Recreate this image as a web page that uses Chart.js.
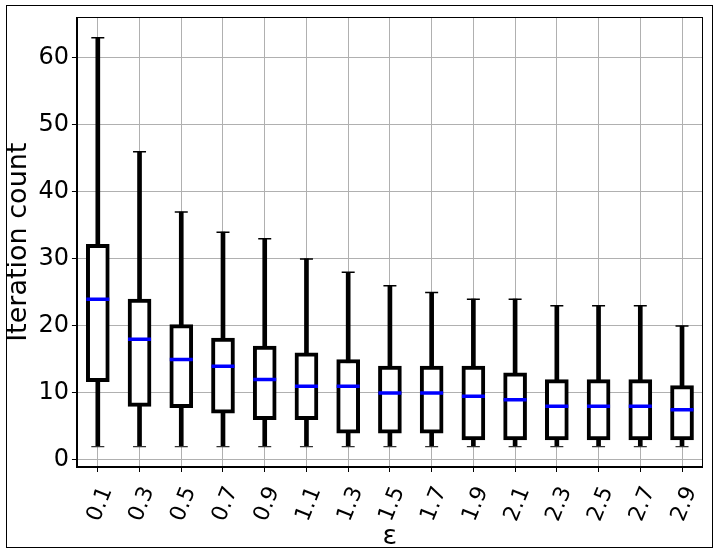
<!DOCTYPE html>
<html><head><meta charset="utf-8">
<script src="https://cdn.jsdelivr.net/npm/chart.js@4"></script>
<style>html,body{margin:0;padding:0;background:#fff}#wrap{position:relative;width:718px;height:553px}</style>
</head><body><div id="wrap"><canvas id="c"></canvas></div>
<script>
const categories = ['0.1','0.3','0.5','0.7','0.9','1.1','1.3','1.5','1.7','1.9','2.1','2.3','2.5','2.7','2.9'];
const whiskerLow  = [2,2,2,2,2,2,2,2,2,2,2,2,2,2,2];
const q1          = [11.7,8,7.8,7,6,6,4,4,4,3,3,3,3,3,3];
const medians     = [24,18,15,14,12,11,11,10,10,9.5,9,8,8,8,7.5];
const q3          = [32.2,24,20.2,18.2,17,16,15,14,14,14,13,12,12,12,11.1];
const whiskerHigh = [63,46,37,34,33,30,28,26,25,24,24,23,23,23,20];
const yTicks = [0,10,20,30,40,50,60];

const boxData = categories.map((c,i)=>[q1[i], q3[i]]);
const whiskerData = categories.map((c,i)=>[whiskerLow[i], whiskerHigh[i]]);

const frame = {
  id:'frame',
  afterDraw(chart){
    const {ctx, chartArea:a} = chart;
    ctx.save();
    ctx.strokeStyle='#000'; ctx.lineWidth=1;
    ctx.strokeRect(Math.round(a.left)+0.5, Math.round(a.top)+0.5, Math.round(a.right-a.left)-1, Math.round(a.bottom-a.top)-1);
    ctx.strokeRect(6.5,5.5,706,542);
    ctx.restore();
  }
};

const FONT = "'DejaVu Sans', sans-serif";
new Chart(document.getElementById('c'), {
  type:'bar',
  data:{
    labels: categories,
    datasets:[
      {type:'line', data: medians, order:0, showLine:false, pointStyle:'line', pointRadius:11.5, pointHoverRadius:11.5, pointBorderColor:'#0000ff', pointBorderWidth:3.5, pointBackgroundColor:'#0000ff'},
      {type:'line', data: whiskerHigh, order:1, showLine:false, pointStyle:'line', pointRadius:6.5, pointHoverRadius:6.5, pointBorderColor:'#000', pointBorderWidth:1.5},
      {type:'line', data: whiskerLow, order:1, showLine:false, pointStyle:'line', pointRadius:6.5, pointHoverRadius:6.5, pointBorderColor:'#333', pointBorderWidth:1.2},
      {type:'bar', data: boxData, order:2, backgroundColor:'#fff', borderColor:'#000', borderWidth:4, borderSkipped:false, barThickness:23, grouped:false},
      {type:'bar', data: whiskerData, order:3, backgroundColor:'#000', borderWidth:0, barThickness:4, grouped:false}
    ]
  },
  options:{
    responsive:true, maintainAspectRatio:false, animation:false, devicePixelRatio:1,
    events:[],
    layout:{padding:{left:3, right:11, top:12, bottom:0}},
    plugins:{legend:{display:false}, tooltip:{enabled:false}},
    scales:{
      x:{
        offset:true,
        afterFit:(s)=>{ s.height = 86; },
        grid:{display:true, color:'#b0b0b0', lineWidth:1, tickColor:'#000', tickLength:5, offset:false},
        border:{display:true, color:'#000'},
        ticks:{color:'#000', font:{family:FONT, size:22}, minRotation:68, maxRotation:68, autoSkip:false, padding:11, labelOffset:9},
        title:{display:true, text:'ε', color:'#000', font:{family:FONT, size:27}, padding:{top:0,bottom:0}}
      },
      y:{
        min:-1.05, max:66.05,
        afterBuildTicks:(s)=>{ s.ticks = yTicks.map(v=>({value:v})); },
        grid:{color:'#b0b0b0', lineWidth:1, tickColor:'#000', tickLength:5},
        border:{display:true, color:'#000'},
        ticks:{color:'#000', font:{family:FONT, size:24}, padding:3},
        title:{display:true, text:'Iteration count', color:'#000', font:{family:FONT, size:27}, padding:{top:0,bottom:0}}
      }
    }
  },
  plugins:[frame]
});
</script></body></html>
